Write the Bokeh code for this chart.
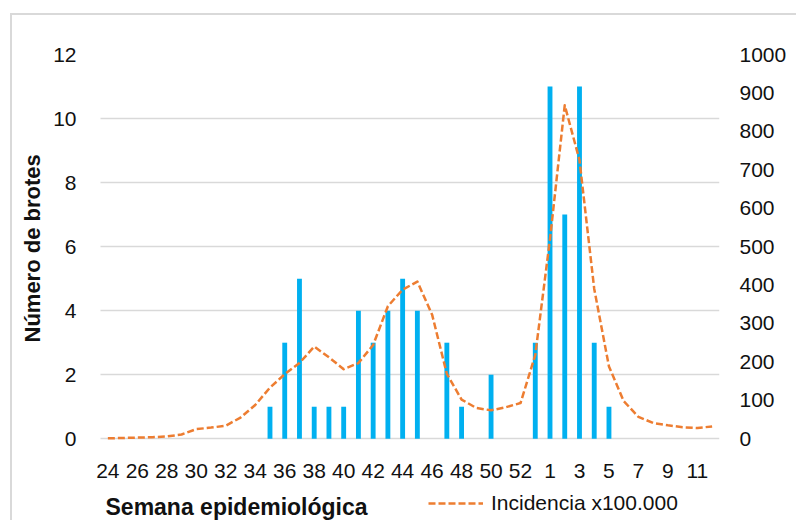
from bokeh.plotting import figure
from bokeh.models import (Range1d, LinearAxis, FixedTicker, Legend, LegendItem, Label,
                          ColumnDataSource, Title, InlineStyleSheet)
from bokeh.embed import file_html
from bokeh.resources import INLINE

weeks = ["24", "25", "26", "27", "28", "29", "30", "31", "32", "33", "34", "35", "36", "37",
         "38", "39", "40", "41", "42", "43", "44", "45", "46", "47", "48", "49", "50", "51",
         "52", "53", "1", "2", "3", "4", "5", "6", "7", "8", "9", "10", "11", "12"]

brotes = [0, 0, 0, 0, 0, 0, 0, 0, 0, 0, 0, 1, 3, 5,
          1, 1, 1, 4, 3, 4, 5, 4, 0, 3, 1, 0, 2, 0,
          0, 3, 11, 7, 11, 3, 1, 0, 0, 0, 0, 0, 0, 0]

incidencia = [1, 2, 3, 4, 6, 11, 25, 29, 34, 55, 88, 133, 168, 197,
              240, 212, 181, 197, 244, 345, 388, 409, 323, 169, 102, 80, 74, 82,
              93, 218, 520, 868, 725, 390, 188, 98, 57, 41, 35, 30, 28, 32]

left_ticks = [0, 2, 4, 6, 8, 10, 12]
right_ticks = [0, 100, 200, 300, 400, 500, 600, 700, 800, 900, 1000]

x_label = "Semana epidemiológica"
y_label = "Número de brotes"
legend_label = "Incidencia x100.000"

FONT = "Liberation Sans"
TXT = "#111111"

# layout: the plot frame runs down to the canvas bottom so the x-axis title and legend
# (below the axis) are inside the drawable frame; the x axis is pinned at y = 0
BELOW = 2.553          # left-axis units shown below zero
LEFT_MAX = 12
RIGHT_MAX = 1000
X_PAD = 0.5428         # extra category units at the left so the first tick label is not clipped

xpos = list(range(len(weeks)))
source = ColumnDataSource(dict(x=xpos, week=weeks, brotes=brotes, incidencia=incidencia))

p = figure(width=796, height=520, output_backend="svg", toolbar_location=None,
           x_range=Range1d(-0.5 - X_PAD, len(weeks) - 0.5), y_range=Range1d(-BELOW, LEFT_MAX),
           min_border_left=92, min_border_right=77, min_border_top=54, min_border_bottom=0)
p.outline_line_color = None
p.background_fill_color = "white"
p.border_fill_color = "white"
p.stylesheets = [InlineStyleSheet(css=(
    ":host::after { content: ''; position: absolute; left: 10px; top: 13px; right: 0; bottom: 0; "
    "border-left: 2px solid #D9D9D9; border-top: 2px solid #D9D9D9; pointer-events: none; z-index: 50; }"
))]

p.extra_y_ranges = {"inc": Range1d(-BELOW * RIGHT_MAX / LEFT_MAX, RIGHT_MAX)}

p.vbar(x="x", top="brotes", bottom=0, width=0.33, source=source,
       fill_color="#00B0F0", line_color=None)
line = p.line(x="x", y="incidencia", source=source, y_range_name="inc",
              line_color="#ED7D31", line_width=2.5, line_dash="7 3", line_join="round")

# x axis pinned at y = 0
xa = p.xaxis[0]
xa.fixed_location = 0
xa.ticker = FixedTicker(ticks=[i for i in xpos if i % 2 == 0])
xa.major_label_overrides = {i: weeks[i] for i in xpos if i % 2 == 0}
xa.major_label_standoff = 19

# left axis
ya = p.yaxis[0]
ya.ticker = FixedTicker(ticks=left_ticks)
ya.major_label_standoff = 10

# right axis
ra = LinearAxis(y_range_name="inc", ticker=FixedTicker(ticks=right_ticks))
ra.major_label_standoff = 14
p.add_layout(ra, "right")

for ax in [xa, ya, ra]:
    ax.axis_line_color = None
    ax.major_tick_line_color = None
    ax.minor_tick_line_color = None
    ax.major_label_text_font = FONT
    ax.major_label_text_font_size = "21px"
    ax.major_label_text_color = TXT

p.xgrid.grid_line_color = None
yg = p.ygrid[0]
yg.ticker = FixedTicker(ticks=left_ticks)
yg.grid_line_color = "#D9D9D9"
yg.grid_line_width = 1.5
if hasattr(yg, "cross_bounds"):
    yg.cross_bounds = (-0.5, len(weeks) - 0.5)

# y-axis title (left side, positioned along the axis)
p.add_layout(Title(text=y_label, align="left", offset=178, standoff=12,
                   text_font=FONT, text_font_style="bold", text_font_size="22px",
                   text_color=TXT), "left")

legend = Legend(items=[LegendItem(label=legend_label, renderers=[line])],
                location=(336, 5), orientation="horizontal",
                border_line_color=None, background_fill_alpha=0,
                padding=0, margin=0, spacing=0,
                glyph_width=55, label_standoff=8,
                label_text_font=FONT, label_text_font_size="21px", label_text_color=TXT)
p.add_layout(legend)

p.add_layout(Label(x=13, y=14, x_units="screen", y_units="screen", text=x_label,
                   text_font=FONT, text_font_style="bold", text_font_size="23px",
                   text_color=TXT, text_baseline="alphabetic"))

open("out.html", "w").write(file_html(p, INLINE))
